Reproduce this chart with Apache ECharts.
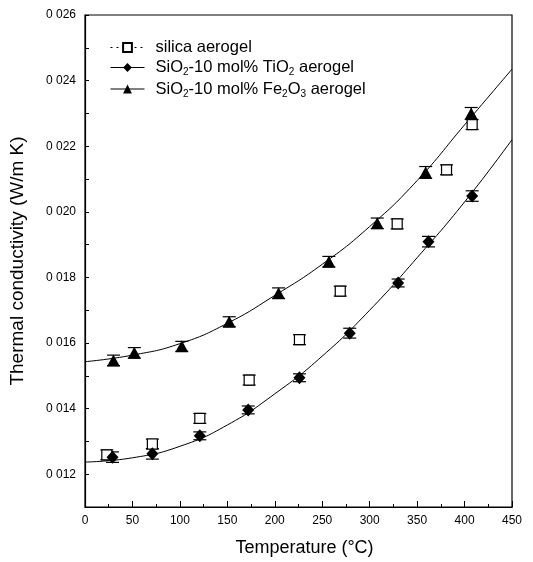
<!DOCTYPE html>
<html>
<head>
<meta charset="utf-8">
<script src="https://cdn.jsdelivr.net/npm/echarts@6/dist/echarts.min.js"></script>
<style>
  html, body { margin: 0; background: #fff; }
  #chart { width: 533px; height: 562px; }
</style>
</head>
<body>
<div id="chart"></div>
<script>
// measured points (temperature in C, conductivity in W/m K)
const silicaT = [23, 71, 121, 173, 226, 269, 329, 381, 408];
const silicaK = [0.01259, 0.01292, 0.0137, 0.01487, 0.0161, 0.01758, 0.01963, 0.02128, 0.02266];
const silicaErr = [0.00015, 0.00015, 0.00015, 0.00015, 0.00015, 0.00015, 0.00015, 0.00015, 0.00015];

const tiT = [29, 71, 121, 172, 226, 279, 330, 362, 408];
const tiK = [0.01252, 0.01262, 0.01317, 0.01396, 0.01494, 0.0163, 0.01783, 0.01909, 0.02048];
const tiErr = [0.00016, 0.00016, 0.00012, 0.00012, 0.00012, 0.00015, 0.00012, 0.00016, 0.00016];

const feT = [30, 52, 102, 152, 204, 257, 308, 359, 407];
const feK = [0.01547, 0.0157, 0.0159, 0.01665, 0.01752, 0.01848, 0.01965, 0.0212, 0.0230];
const feErr = [0.00016, 0.00016, 0.00015, 0.00015, 0.00016, 0.00016, 0.00016, 0.00018, 0.00018];

// fitted curves
const curveT = [0, 50, 100, 150, 200, 250, 300, 350, 400, 450];
const tiCurveK = [0.01237, 0.0125, 0.01285, 0.0135, 0.01445, 0.0156, 0.017, 0.0186, 0.0203, 0.0222];
const feCurveK = [0.01543, 0.01563, 0.01598, 0.0166, 0.01745, 0.0184, 0.01955, 0.02095, 0.02265, 0.02435];

const xTicks = [0, 450, 50];
const yTicks = [0.011, 0.026, 0.001];

const names = ['silica aerogel', 'SiO2-10 mol% TiO2 aerogel', 'SiO2-10 mol% Fe2O3 aerogel'];

const font = 'Liberation Sans, Arial, sans-serif';

function zip(a, b, c) {
    return a.map((v, i) => c ? [v, b[i], c[i]] : [v, b[i]]);
}

function errorBars(data) {
    return {
        type: 'custom',
        silent: true,
        z: 3,
        data: data,
        encode: { x: 0, y: 1 },
        renderItem: function (params, api) {
            let x = api.value(0), y = api.value(1), e = api.value(2);
            let top = api.coord([x, y + e]);
            let bot = api.coord([x, y - e]);
            let w = 6.5;
            let style = { stroke: '#000', lineWidth: 1.2 };
            return {
                type: 'group',
                children: [
                    { type: 'line', shape: { x1: top[0], y1: top[1], x2: bot[0], y2: bot[1] }, style: style },
                    { type: 'line', shape: { x1: top[0] - w, y1: top[1], x2: top[0] + w, y2: top[1] }, style: style },
                    { type: 'line', shape: { x1: bot[0] - w, y1: bot[1], x2: bot[0] + w, y2: bot[1] }, style: style }
                ]
            };
        }
    };
}

// wrap chemical formula digits as subscripts
function subscript(name) {
    return name.replace(/([A-Za-z])(\d)/g, '$1\u0000$2\u0001')
        .split(/(\u0000\d\u0001)/)
        .map(p => p.charAt(0) === '\u0000' ? '{s|' + p.slice(1, -1) + '}' : (p ? '{n|' + p + '}' : ''))
        .join('');
}

let chart = echarts.init(document.getElementById('chart'), null, { renderer: 'canvas' });
chart.setOption({
    animation: false,
    backgroundColor: '#fff',
    textStyle: { fontFamily: font, color: '#000' },
    grid: {
        left: 85, right: 21, top: 15, bottom: 54,
        show: true, borderColor: '#000', borderWidth: 1.2
    },
    legend: {
        orient: 'vertical',
        left: 105,
        top: 34,
        itemWidth: 34,
        itemHeight: 11,
        itemGap: 3,
        selectedMode: false,
        textStyle: {
            fontFamily: font, fontSize: 16.5, color: '#000', padding: [0, 0, 0, 6],
            rich: {
                n: { fontFamily: font, fontSize: 16.5, color: '#000', lineHeight: 20 },
                s: { fontFamily: font, fontSize: 10, color: '#000', lineHeight: 10, verticalAlign: 'bottom' }
            }
        },
        formatter: subscript,
        data: [
            { name: names[0], lineStyle: { opacity: 1, type: [2, 4], width: 1, color: '#000' } },
            { name: names[1], lineStyle: { opacity: 1, type: 'solid', width: 1, color: '#000' } },
            { name: names[2], lineStyle: { opacity: 1, type: 'solid', width: 1, color: '#000' } }
        ]
    },
    xAxis: {
        type: 'value',
        min: xTicks[0], max: xTicks[1], interval: xTicks[2],
        name: 'Temperature (\u00b0C)',
        nameLocation: 'middle',
        nameGap: 32,
        nameTextStyle: { fontFamily: font, fontSize: 18, color: '#000', padding: [0, 0, 0, 12] },
        axisLine: { lineStyle: { color: '#000', width: 1.2 } },
        axisTick: { inside: true, length: 6, lineStyle: { color: '#000' } },
        minorTick: { show: true, splitNumber: 2, length: 3, lineStyle: { color: '#000' } },
        splitLine: { show: false },
        axisLabel: { fontFamily: font, fontSize: 12, color: '#000', margin: 8 }
    },
    yAxis: {
        type: 'value',
        min: yTicks[0], max: yTicks[1], interval: yTicks[2],
        name: 'Thermal conductivity (W/m K)',
        nameLocation: 'middle',
        nameGap: 58,
        nameTextStyle: { fontFamily: font, fontSize: 19, color: '#000' },
        axisLine: { lineStyle: { color: '#000', width: 1.2 } },
        axisTick: { inside: true, length: 4, lineStyle: { color: '#000' } },
        splitLine: { show: false },
        axisLabel: {
            fontFamily: font, fontSize: 12, color: '#000', margin: 9,
            formatter: function (v) {
                let m = Math.round(v * 1000);
                if (m % 2 !== 0) return '';
                return v.toFixed(3).replace('.', ' ');
            }
        }
    },
    series: [
        {
            name: 'tiCurve', type: 'line', smooth: true, symbol: 'none', silent: true, z: 2,
            lineStyle: { color: '#000', width: 1 },
            data: zip(curveT, tiCurveK)
        },
        {
            name: 'feCurve', type: 'line', smooth: true, symbol: 'none', silent: true, z: 2,
            lineStyle: { color: '#000', width: 1 },
            data: zip(curveT, feCurveK)
        },
        errorBars(zip(silicaT, silicaK, silicaErr)),
        errorBars(zip(tiT, tiK, tiErr)),
        errorBars(zip(feT, feK, feErr)),
        {
            name: names[0], type: 'line', silent: true, z: 5,
            symbol: 'rect', symbolSize: 10,
            lineStyle: { opacity: 0 },
            itemStyle: { color: '#fff', borderColor: '#000', borderWidth: 1.2 },
            data: zip(silicaT, silicaK)
        },
        {
            name: names[1], type: 'line', silent: true, z: 5,
            symbol: 'diamond', symbolSize: [12, 13],
            lineStyle: { opacity: 0 },
            itemStyle: { color: '#000' },
            data: zip(tiT, tiK)
        },
        {
            name: names[2], type: 'line', silent: true, z: 5,
            symbol: 'triangle', symbolSize: [13, 12],
            lineStyle: { opacity: 0 },
            itemStyle: { color: '#000' },
            data: zip(feT, feK)
        }
    ]
});
</script>
</body>
</html>
